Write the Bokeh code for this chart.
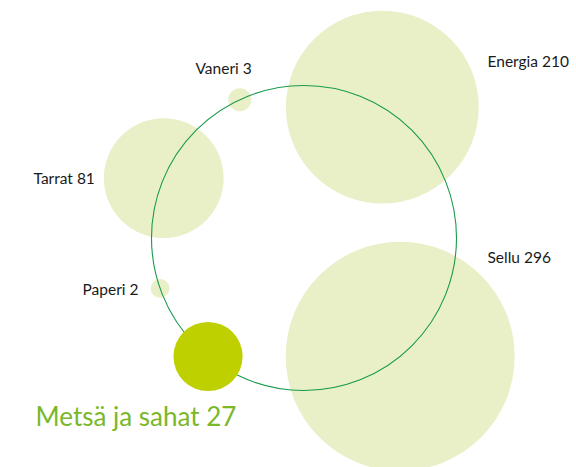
import math
from bokeh.plotting import figure
from bokeh.models import ColumnDataSource, Range1d
from bokeh.core.properties import value
from bokeh.embed import file_html
from bokeh.resources import INLINE

# ---- data ----
categories = ["Sellu", "Energia", "Vaneri", "Tarrat", "Paperi", "Metsä ja sahat"]
values = [296, 210, 3, 81, 2, 27]

# ---- layout (screen-like coordinates, y downwards) ----
W, H = 576, 467
ring_cx, ring_cy, ring_r = 303.5, 237.5, 152.5
angles_deg = [-50.9, 59.1, 114.9, 156.9, 199.3, 231.0]
size_k = 6.655  # radius per sqrt(value)
label_xy = [(487, 256), (487, 60), (195, 67), (33, 177), (82, 288), (35, 415)]
label_sizes = ["15.5px", "15.5px", "15.5px", "15.5px", "15.5px", "26px"]
label_colors = ["#1a1a1a"] * 5 + ["#7ab82a"]
fill_colors = ["#e9f0c8"] * 5 + ["#bfd000"]

xs, ys, rs = [], [], []
for a, v in zip(angles_deg, values):
    t = math.radians(a)
    xs.append(ring_cx + ring_r * math.cos(t))
    ys.append(ring_cy - ring_r * math.sin(t))
    rs.append(size_k * math.sqrt(v))

p = figure(width=W, height=H, output_backend="svg", toolbar_location=None,
           x_range=Range1d(0, W), y_range=Range1d(H, 0),
           min_border=0, outline_line_color=None)
p.axis.visible = False
p.grid.visible = False
p.background_fill_color = "white"
p.border_fill_color = "white"

# pale bubbles first (except Metsä)
src_b = ColumnDataSource(dict(x=xs[:5], y=ys[:5], r=rs[:5], c=fill_colors[:5]))
p.circle(x="x", y="y", radius="r", fill_color="c", line_color=None, source=src_b)

# ring
p.circle(x=[ring_cx], y=[ring_cy], radius=ring_r, fill_color=None,
         line_color="#169a4a", line_width=1.1)

# highlighted bubble
p.circle(x=[xs[5]], y=[ys[5]], radius=rs[5], fill_color=fill_colors[5], line_color=None)

labels = [f"{c} {v}" for c, v in zip(categories, values)]
for (lx, ly), txt, fs, col in zip(label_xy, labels, label_sizes, label_colors):
    p.text(x=[lx], y=[ly], text=[txt], text_font=value("Lato"),
           text_font_size=fs, text_color=col, text_baseline="middle",
           text_align="left")

open("out.html", "w").write(file_html(p, INLINE))
